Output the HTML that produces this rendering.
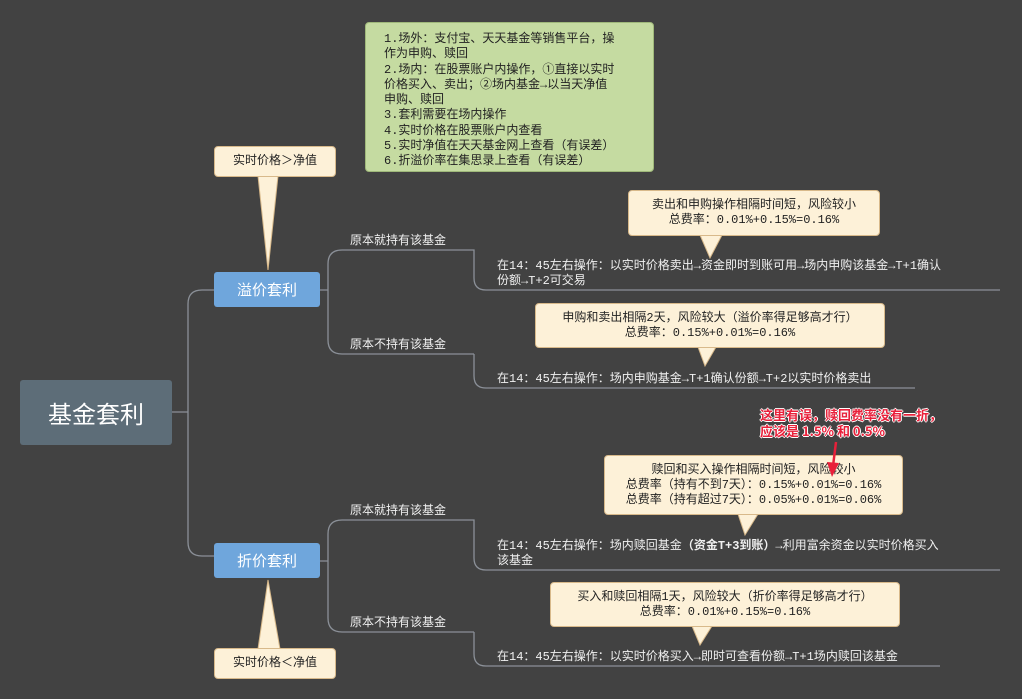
<!DOCTYPE html><html><head><meta charset="utf-8"><style>
body{margin:0;width:1022px;height:699px;background:#424242;position:relative;overflow:hidden;font-family:"Liberation Mono","Noto Sans CJK SC",monospace;}
.a{position:absolute;white-space:nowrap;}
.t{font-size:12px;color:#f0f0f0;line-height:15px;}
.c{background:#fdf1d8;border:1px solid #d8b98a;border-radius:4px;color:#222;font-size:12px;line-height:15px;text-align:center;box-sizing:border-box;}
.b{background:#6fa6dc;color:#fff;font-size:15px;text-align:center;border-radius:3px;font-family:"Noto Sans CJK SC",sans-serif;}
</style></head><body>
<svg class="a" style="left:0;top:0" width="1022" height="699">
<g fill="none" stroke="#8b9098" stroke-width="1.3">
<path d="M172 412 H188 M202 290 Q188 290 188 304 V542 Q188 556 202 556 H214 M202 290 H214"/>
<path d="M320 290 H328 M342 250 Q328 250 328 264 V340 Q328 354 342 354 H474 M342 250 H474 Q474 250 474 262 V278 Q474 290 486 290 H1000 M474 354 Q474 354 474 366 V376 Q474 388 486 388 H915"/>
<path d="M320 561 H328 M342 520 Q328 520 328 534 V618 Q328 632 342 632 H474 M342 520 H474 V558 Q474 570 486 570 H1000 M474 632 V654 Q474 666 486 666 H940"/>
</g>
<g fill="#fdf1d8" stroke="#d8b98a">
<path d="M258 176 L268 270 L278 176"/>
<path d="M258 649 L268 580 L280 649"/>
<path d="M700 235 L710 258 L722 235"/>
<path d="M698 347 L705 366 L716 347"/>
<path d="M738 514 L745 535 L758 514"/>
<path d="M692 626 L700 645 L712 626"/>
</g>
</svg>
<div class="a" style="left:20px;top:380px;width:152px;height:65px;background:#5d6d78;color:#fff;font-size:24px;line-height:65px;text-align:center;border-radius:3px;font-family:'Noto Sans CJK SC',sans-serif">基金套利</div>
<div class="a b" style="left:214px;top:272px;width:106px;height:35px;line-height:35px">溢价套利</div>
<div class="a b" style="left:214px;top:543px;width:106px;height:35px;line-height:35px">折价套利</div>
<div class="a c" style="left:214px;top:146px;width:122px;height:31px;line-height:29px">实时价格＞净值</div>
<div class="a c" style="left:214px;top:648px;width:122px;height:31px;line-height:29px">实时价格＜净值</div>
<div class="a" style="left:365px;top:22px;width:289px;height:150px;background:#c5dba1;border:1px solid #9fb87a;border-radius:4px;box-sizing:border-box;padding:9px 0 0 18px;font-size:12px;line-height:15.3px;color:#222">1.场外：支付宝、天天基金等销售平台，操<br>作为申购、赎回<br>2.场内：在股票账户内操作，①直接以实时<br>价格买入、卖出；②场内基金→以当天净值<br>申购、赎回<br>3.套利需要在场内操作<br>4.实时价格在股票账户内查看<br>5.实时净值在天天基金网上查看（有误差）<br>6.折溢价率在集思录上查看（有误差）</div>
<div class="a t" style="left:350px;top:234px">原本就持有该基金</div>
<div class="a t" style="left:350px;top:338px">原本不持有该基金</div>
<div class="a t" style="left:350px;top:504px">原本就持有该基金</div>
<div class="a t" style="left:350px;top:616px">原本不持有该基金</div>
<div class="a t" style="left:497px;top:259px">在14：45左右操作：以实时价格卖出→资金即时到账可用→场内申购该基金→T+1确认<br>份额→T+2可交易</div>
<div class="a t" style="left:497px;top:372px">在14：45左右操作：场内申购基金→T+1确认份额→T+2以实时价格卖出</div>
<div class="a t" style="left:497px;top:539px">在14：45左右操作：场内赎回基金<b>（资金T+3到账）</b>→利用富余资金以实时价格买入<br>该基金</div>
<div class="a t" style="left:497px;top:650px">在14：45左右操作：以实时价格买入→即时可查看份额→T+1场内赎回该基金</div>
<div class="a c" style="left:628px;top:190px;width:252px;height:46px;padding-top:7px">卖出和申购操作相隔时间短，风险较小<br>总费率：0.01%+0.15%=0.16%</div>
<div class="a c" style="left:535px;top:303px;width:350px;height:45px;padding-top:7px">申购和卖出相隔2天，风险较大（溢价率得足够高才行）<br>总费率：0.15%+0.01%=0.16%</div>
<div class="a c" style="left:604px;top:455px;width:299px;height:60px;padding-top:7px">赎回和买入操作相隔时间短，风险较小<br>总费率（持有不到7天）：0.15%+0.01%=0.16%<br>总费率（持有超过7天）：0.05%+0.01%=0.06%</div>
<div class="a c" style="left:550px;top:582px;width:350px;height:45px;padding-top:7px">买入和赎回相隔1天，风险较大（折价率得足够高才行）<br>总费率：0.01%+0.15%=0.16%</div>
<div class="a" style="left:760px;top:407px;font-size:13px;line-height:16px;font-weight:bold;color:#e8203a;font-family:'Noto Sans CJK SC',sans-serif;text-shadow:1px 0 0 #fff,-1px 0 0 #fff,0 1px 0 #fff,0 -1px 0 #fff">这里有误，赎回费率没有一折，<br>应该是 1.5% 和 0.5%</div>
<svg class="a" style="left:0;top:0" width="1022" height="699">
<line x1="836" y1="442" x2="833" y2="466" stroke="#e8203a" stroke-width="2.5"/>
<path d="M827 462 L832 477 L839 463Z" fill="#e8203a"/>
</svg>
</body></html>
